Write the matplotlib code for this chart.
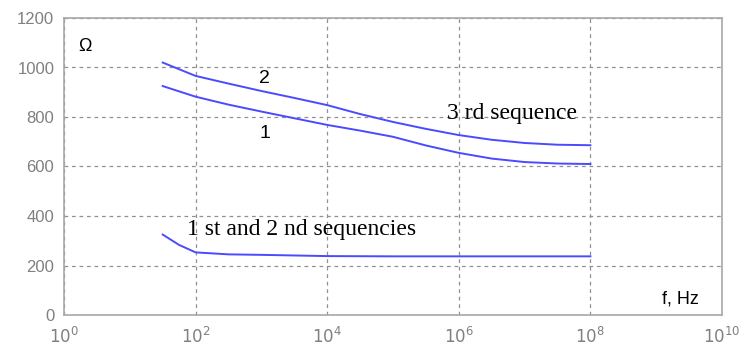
import numpy as np
import matplotlib
matplotlib.use("Agg")
import matplotlib.pyplot as plt
from matplotlib.ticker import FixedLocator, FuncFormatter

# frequency points (log10 of f, Hz) and impedance values
log_f = [1.5, 2.0, 2.5, 3.0, 3.5, 4.0, 4.5, 5.0, 5.5, 6.0, 6.5, 7.0, 7.5, 8.0]
z_seq3_2 = [1020, 966, 935, 905, 877, 848, 812, 780, 752, 727, 708, 695, 688, 686]
z_seq3_1 = [925, 882, 850, 822, 795, 768, 745, 720, 685, 655, 632, 618, 612, 610]

log_f_low = [1.5, 1.75, 2.0, 2.5, 3.0, 4.0, 5.0, 6.0, 7.0, 8.0]
z_seq12 = [325, 283, 253, 245, 243, 238, 237, 237, 237, 237]

x_ticks = [0, 2, 4, 6, 8, 10]
y_ticks = [0, 200, 400, 600, 800, 1000, 1200]

line_col = "#4a4aff"
grid_col = "#909090"
tick_col = "#808080"

fig = plt.figure(figsize=(7.42, 3.51), dpi=100)
ax = fig.add_axes([64 / 742, 1 - 315 / 351, 658 / 742, 297 / 351])

f2 = np.power(10.0, log_f)
fl = np.power(10.0, log_f_low)
ax.plot(f2, z_seq3_2, color=line_col, lw=1.4)
ax.plot(f2, z_seq3_1, color=line_col, lw=1.4)
ax.plot(fl, z_seq12, color=line_col, lw=1.4)

ax.set_xscale("log")
ax.set_xlim(1, 1e10)
ax.set_ylim(0, 1200)
ax.xaxis.set_major_locator(FixedLocator([10.0 ** p for p in x_ticks]))
ax.xaxis.set_minor_locator(FixedLocator([]))
ax.xaxis.set_major_formatter(FuncFormatter(lambda v, pos: r"$10^{%d}$" % round(np.log10(v))))
ax.set_yticks(y_ticks)

ax.grid(True, color=grid_col, linestyle=(0, (3, 3)), lw=0.9)
ax.tick_params(axis="y", length=0, pad=7, colors=tick_col, labelsize=12)
ax.tick_params(axis="x", length=0, pad=8, colors=tick_col, labelsize=12)
for lab in ax.get_xticklabels() + ax.get_yticklabels():
    lab.set_fontfamily("Liberation Sans")
for s in ax.spines.values():
    s.set_color("#a8a8a8")
    s.set_linewidth(1.2)

sans = "Liberation Sans"
serif = "Liberation Serif"
ax.text(0.022, 0.905, "Ω", transform=ax.transAxes, fontsize=13, family=sans, va="center")
ax.text(10 ** 3.05, 955, "2", fontsize=14, family=sans, ha="center", va="center")
ax.text(10 ** 3.05, 735, "1", fontsize=14, family=sans, ha="center", va="center")
ax.text(10 ** 5.82, 816, "3 rd sequence", fontsize=17, family=serif, va="center")
ax.text(10 ** 1.87, 347, "1 st and 2 nd sequencies", fontsize=17, family=serif, va="center")
ax.text(0.965, 0.055, "f, Hz", transform=ax.transAxes, fontsize=13, family=sans, ha="right", va="center")

plt.savefig("out.png", dpi=100)
